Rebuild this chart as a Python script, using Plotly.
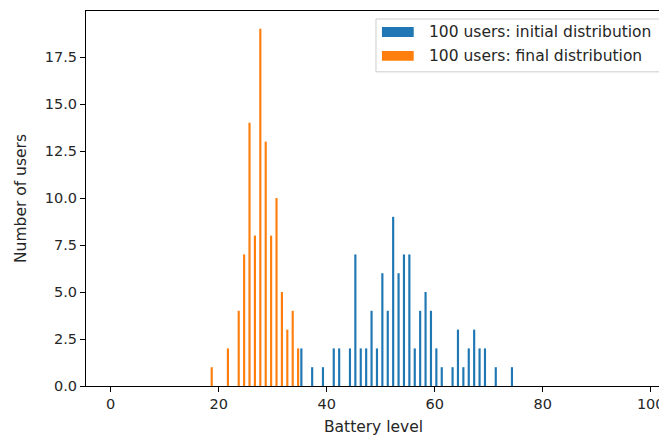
import plotly.graph_objects as go

# Histogram bins (left edges, width 1) and counts
initial_bins = [35, 37, 39, 41, 42, 44, 45, 46, 47, 48, 49, 50, 51, 52, 53, 54, 55, 56,
                57, 58, 59, 60, 61, 63, 64, 65, 66, 67, 68, 69, 71, 74]
initial_counts = [2, 1, 1, 2, 2, 2, 7, 2, 2, 4, 2, 6, 4, 9, 6, 7, 7, 2,
                  4, 5, 4, 2, 1, 1, 3, 1, 2, 3, 2, 2, 1, 1]
final_bins = [18, 21, 23, 24, 25, 26, 27, 28, 29, 30, 31, 32, 33, 34]
final_counts = [1, 2, 4, 7, 14, 8, 19, 13, 8, 10, 5, 3, 4, 2]

series_names = ["100 users: initial distribution", "100 users: final distribution"]
series_colors = ["#1f77b4", "#ff7f0e"]

x_ticks = [0, 20, 40, 60, 80, 100]
y_ticks = [0, 2.5, 5, 7.5, 10, 12.5, 15, 17.5]

# page has an 8px body margin, so the figure is drawn 8px smaller
W, H = 659, 431
ML, MT, MR, MB = 78, 2, 2, 53
PW, PH = W - ML - MR, H - MT - MB

def px(x):
    return (x - ML) / PW

def py(y):
    return (H - MB - y) / PH

tick_font = dict(family="DejaVu Sans", size=14.5, color="#262626")
title_font = dict(family="DejaVu Sans", size=15.5, color="#262626")
legend_font = dict(family="DejaVu Sans", size=15.5, color="#262626")

fig = go.Figure()
fig.add_trace(go.Bar(x=initial_bins, y=initial_counts, offset=0.1, width=0.4,
                     marker=dict(color=series_colors[0], line=dict(width=0)),
                     name=series_names[0], showlegend=False))
fig.add_trace(go.Bar(x=final_bins, y=final_counts, offset=0.5, width=0.4,
                     marker=dict(color=series_colors[1], line=dict(width=0)),
                     name=series_names[1], showlegend=False))

# legend drawn like matplotlib's (wide patches)
shapes = [dict(type="rect", xref="paper", yref="paper",
               x0=px(370), x1=px(656), y0=py(63), y1=py(10),
               line=dict(color="#cccccc", width=1), fillcolor="rgba(255,255,255,0.8)", layer="above")]
annotations = []
row_y = [23, 47]
for i in range(2):
    shapes.append(dict(type="rect", xref="paper", yref="paper",
                       x0=px(376), x1=px(408), y0=py(row_y[i] + 5), y1=py(row_y[i] - 5),
                       line=dict(width=0), fillcolor=series_colors[i], layer="above"))
    annotations.append(dict(xref="paper", yref="paper", x=px(421), y=py(row_y[i]),
                            xanchor="left", yanchor="middle", showarrow=False,
                            text=series_names[i], font=legend_font))

fig.update_layout(
    width=W, height=H,
    margin=dict(l=ML, r=MR, t=MT, b=MB),
    paper_bgcolor="white", plot_bgcolor="white",
    barmode="overlay",
    showlegend=False,
    shapes=shapes, annotations=annotations,
    xaxis=dict(range=[-4.58, 101.9], tickvals=x_ticks, ticks="outside", ticklen=5,
               tickcolor="black", tickfont=tick_font, ticklabeloverflow="allow",
               showline=True, linecolor="black", linewidth=1, mirror=True,
               showgrid=False, zeroline=False,
               title=dict(text="Battery level", standoff=9, font=title_font)),
    yaxis=dict(range=[0, 19.95], tickvals=y_ticks, tickformat=".1f", ticks="outside", ticklen=5,
               tickcolor="black", tickfont=tick_font,
               showline=True, linecolor="black", linewidth=1, mirror=True,
               showgrid=False, zeroline=False,
               title=dict(text="Number of users", standoff=14, font=title_font)),
)

fig.write_html("out.html")
